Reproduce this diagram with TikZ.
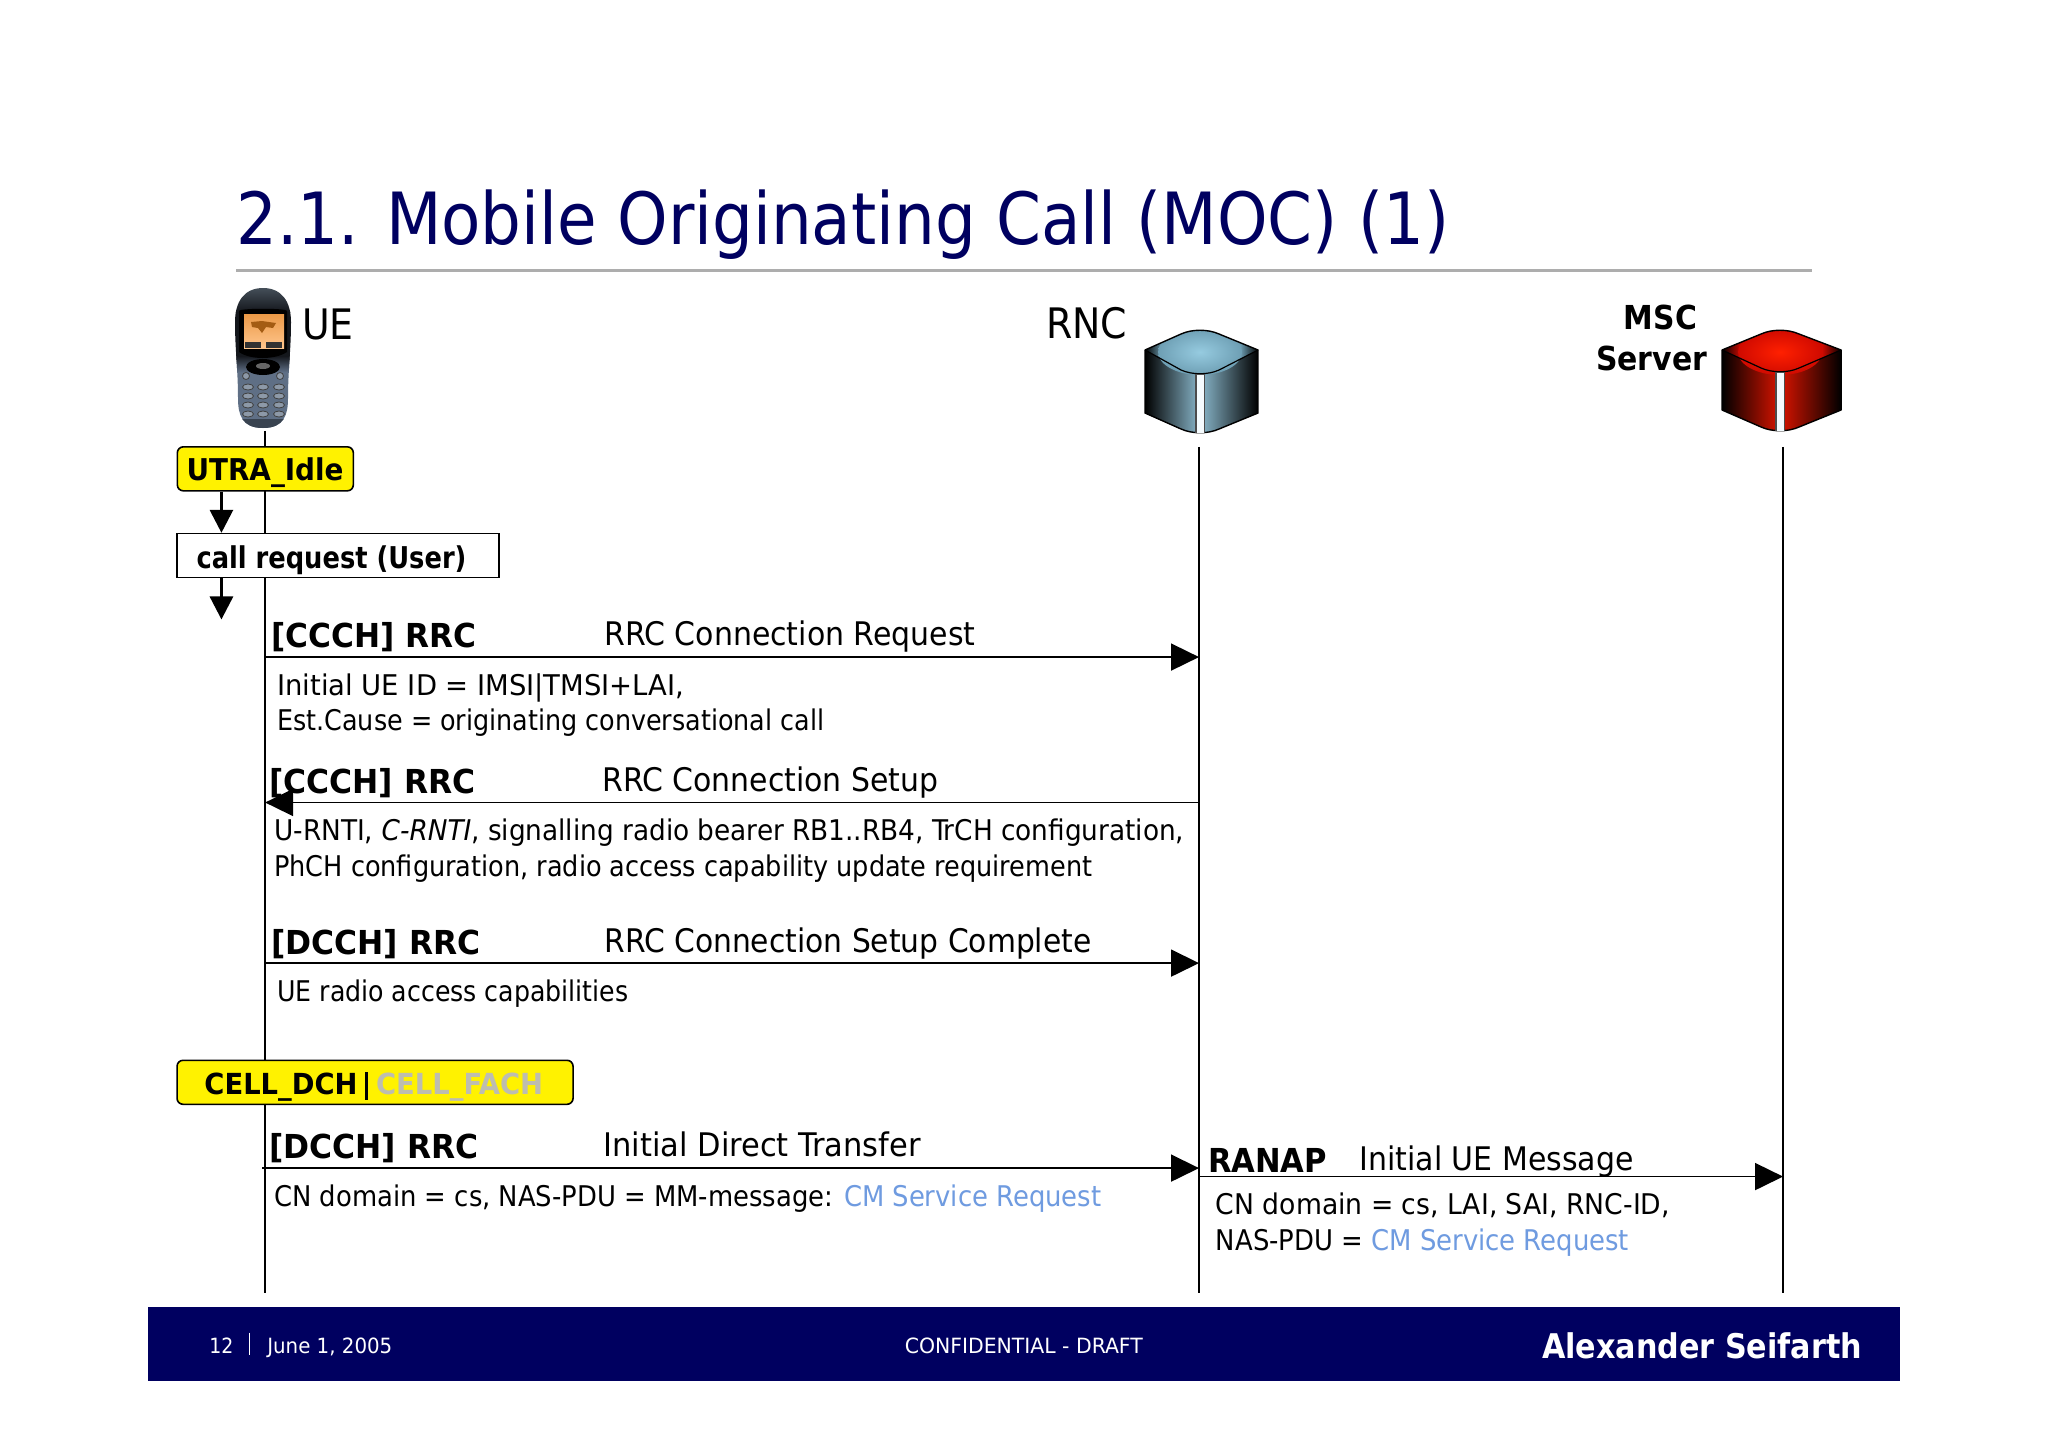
\documentclass[tikz,border=0pt]{standalone}
\usepackage{fontspec}
\usepackage{graphicx}
\setmainfont{DejaVu Sans Condensed}
\usetikzlibrary{arrows.meta}
\definecolor{navy}{HTML}{000060}
\definecolor{cmblue}{HTML}{6F9BE0}
\definecolor{cellgray}{HTML}{BDBDB0}
\definecolor{rncmid}{HTML}{8AB8CC}
\definecolor{rnclight}{HTML}{96CBE0}
\definecolor{rnctopmid}{HTML}{6E9FB4}
\definecolor{mscmid}{HTML}{D81400}
\definecolor{msclight}{HTML}{FF2000}
\definecolor{msctopmid}{HTML}{D00A00}
\definecolor{phonetop}{HTML}{4A5560}
\definecolor{phonedark}{HTML}{14171C}
\definecolor{phonebody}{HTML}{5F6F85}
\definecolor{phonekey}{HTML}{8D99A8}
\pgfdeclarehorizontalshading{topblue}{100bp}{color(0bp)=(black);color(25bp)=(black);color(33bp)=(rnctopmid);color(67bp)=(rnctopmid);color(75bp)=(black);color(100bp)=(black)}
\pgfdeclarehorizontalshading{topred}{100bp}{color(0bp)=(black);color(25bp)=(black);color(33bp)=(msctopmid);color(67bp)=(msctopmid);color(75bp)=(black);color(100bp)=(black)}
\newcommand{\fsz}[1]{\fontsize{#1}{#1}\selectfont}
\newcommand{\fw}[2]{\resizebox{#1pt}{\height}{#2}}
\tikzset{
  txt/.style={anchor=base west,inner sep=0pt,outer sep=0pt,text=black},
  head/.style={txt,font=\bfseries\fsz{33}},
  msgname/.style={txt,font=\fsz{32.5}},
  param/.style={txt,font=\fsz{28.5}},
  life/.style={draw=black,line width=1.7pt},
  msgline/.style={draw=black,line width=1.7pt,-{Triangle[length=28pt,width=27pt]}},
  statebox/.style={draw=black,line width=1.6pt,fill=yellow,rounded corners=6pt},
  flow/.style={draw=black,line width=3pt,-{Triangle[length=23pt,width=23pt]}},
}
% L, C, R, T, S, F, LS, B come from \def; #1 top shading, #2 side colour, #3 light, #4 top mid
\newcommand{\drawcube}[4]{%
  \begin{scope}
    \clip (\cL,\cS) -- (\cC-19,\cT+5) .. controls (\cC-8,\cT) and (\cC+8,\cT) .. (\cC+19,\cT+5) -- (\cR,\cS) -- (\cR,\cLS) -- (\cC+19,\cB-5) .. controls (\cC+8,\cB) and (\cC-8,\cB) .. (\cC-19,\cB-5) -- (\cL,\cLS) -- cycle;
    \shade[left color=black,right color=#2] (\cL,\cT) rectangle (\cC,\cB);
    \shade[left color=#2,right color=black] (\cC,\cT) rectangle (\cR,\cB);
    \shade[shading=#1] (\cL,\cS) -- (\cC-19,\cT+5) .. controls (\cC-8,\cT) and (\cC+8,\cT) .. (\cC+19,\cT+5) -- (\cR,\cS) -- (\cC+19,\cF-5) .. controls (\cC+8,\cF) and (\cC-8,\cF) .. (\cC-19,\cF-5) -- cycle;
    \shade[inner color=#3,outer color=#4] (\cC,\cS+2) ellipse [x radius=42,y radius=23];
  \end{scope}
  \draw[black,line width=1.4pt,line join=round] (\cL,\cS) -- (\cC-19,\cT+5) .. controls (\cC-8,\cT) and (\cC+8,\cT) .. (\cC+19,\cT+5) -- (\cR,\cS) -- (\cR,\cLS) -- (\cC+19,\cB-5) .. controls (\cC+8,\cB) and (\cC-8,\cB) .. (\cC-19,\cB-5) -- (\cL,\cLS) -- cycle;
  \draw[black,line width=1.2pt] (\cL,\cS) -- (\cC-19,\cF-5) .. controls (\cC-8,\cF) and (\cC+8,\cF) .. (\cC+19,\cF-5) -- (\cR,\cS);
  \fill[black!70] (\cC-5,\cF-1) rectangle (\cC+5,\cB-1);
  \fill[black!6!cyan!4!white] (\cC-3.5,\cF) rectangle (\cC+3.5,\cB-1);
}
\begin{document}
\begin{tikzpicture}[x=.9975pt,y=-.9975pt]
\useasboundingbox (0,0) rectangle (2053.1,1450.6);
\fill[white] (0,0) rectangle (2053.1,1450.6);
% title
\node[txt,text=navy,font=\fsz{72}] (title) at (237,245) {\fw{1213}{2.1. Mobile Originating Call (MOC) (1)}};
\draw[line width=3pt,draw=black!32] (237,271) -- (1816,271);
% lifelines
\coordinate (uetop) at (265.8,432); \coordinate (uebot) at (265.8,1296);
\coordinate (rnctop) at (1202,448); \coordinate (rncbot) at (1202,1296);
\coordinate (msctop) at (1787.5,448); \coordinate (mscbot) at (1787.5,1296);
\draw[life] (uetop) -- (uebot);
\draw[life] (rnctop) -- (rncbot);
\draw[life] (msctop) -- (mscbot);
% phone and server icons, in true pixels
\begin{scope}[x=1pt,y=-1pt]
  \begin{scope}
    \clip (263,288) .. controls (282,288) and (291,302) .. (291,322) .. controls (291,350) and (288,370) .. (288,398) .. controls (288,415) and (284,428) .. (263,428) .. controls (242,428) and (238,415) .. (238,398) .. controls (238,370) and (235,350) .. (235,322) .. controls (235,302) and (244,288) .. (263,288);
    \shade[top color=phonetop,bottom color=phonedark] (230,285) rectangle (296,312);
    \fill[phonedark] (230,312) rectangle (296,362);
    \fill[phonebody] (230,362) rectangle (296,432);
    \shade[top color=phonedark,bottom color=phonebody] (230,356) rectangle (296,372);
    \fill[phonebody!60!black] (238,419) rectangle (290,432);
  \end{scope}
  \fill[black] (239,311) .. controls (239,308) and (287,308) .. (287,311) -- (287,352) .. controls (275,360) and (250,360) .. (239,352) -- cycle;
  \shade[top color=orange!60!brown!80!white,bottom color=orange!45!white] (244,314) rectangle (284,348);
  \fill[black!40!orange!70!brown] (251,322) -- (262,321) -- (276,323) -- (273,328) -- (266,327) -- (262,333) -- (258,328) -- (252,327) -- cycle;
  \fill[black!80] (245,342) rectangle (261,348);
  \fill[black!80] (266,342) rectangle (282,348);
  \fill[black] (263,367) ellipse [x radius=17,y radius=8];
  \fill[black!60] (263,366) ellipse [x radius=7,y radius=3];
  \foreach \kx in {248,263,279}{\foreach \ky in {387,396,405,414}{
    \fill[draw=black!75,fill=phonekey,line width=.8pt] (\kx,\ky) ellipse [x radius=5.5,y radius=3];}}
  \fill[draw=black!75,fill=phonekey,line width=.8pt] (246,376) circle (3.5);
  \fill[draw=black!75,fill=phonekey,line width=.8pt] (280,376) circle (3.5);
  % RNC
  \def\cL{1145}\def\cC{1200}\def\cR{1258}\def\cT{329}\def\cS{350}\def\cF{375}\def\cLS{413}\def\cB{434}
  \drawcube{topblue}{rncmid}{rnclight}{rnctopmid}
  % MSC
  \def\cL{1722}\def\cC{1780}\def\cR{1841}\def\cT{329}\def\cS{350}\def\cF{373}\def\cLS{410}\def\cB{432}
  \drawcube{topred}{mscmid}{msclight}{msctopmid}
\end{scope}
% participant labels
\node[txt,font=\fsz{42}] (ue) at (303,340) {UE};
\node[txt,font=\fsz{42}] (rnc) at (1049,339) {\fw{81}{RNC}};
\node[txt,font=\bfseries\fsz{33}] (msc) at (1628,330) {\fw{73}{MSC}};
\node[txt,font=\bfseries\fsz{33}] (server) at (1600,371) {\fw{111}{Server}};
% state boxes
\node[statebox,minimum width=176pt,minimum height=44pt,inner sep=0pt] (idle) at (266,470) {};
\node[txt,font=\bfseries\fsz{30}] (idletxt) at (187,482) {\fw{157}{UTRA\_Idle}};
\node[draw=black,line width=1.6pt,fill=white,minimum width=322pt,minimum height=44pt,inner sep=0pt] (callreq) at (339,557) {};
\node[txt,font=\bfseries\fsz{30}] (calltxt) at (197,570) {\fw{270}{call request (User)}};
\draw[flow] (idle.south -| 222,0) -- (callreq.north -| 222,0);
\coordinate (a2e) at (222,621);
\draw[flow] (callreq.south -| a2e) -- (a2e);
\node[statebox,minimum width=396pt,minimum height=44pt,inner sep=0pt] (cell) at (376,1085) {};
\node[txt,font=\bfseries\fsz{29}] (cell1) at (205,1097) {\fw{153}{CELL\_DCH}};
\draw[black,line width=3pt] (367,1075) -- (367,1103);
\node[txt,font=\bfseries\fsz{29},text=cellgray] (cell2) at (377,1097) {\fw{167}{CELL\_FACH}};
% messages
\coordinate (m1a) at (265.8,658.7); \coordinate (m1b) at (1202,658.7);
\coordinate (m2a) at (1202,804.5); \coordinate (m2b) at (265.8,804.5);
\coordinate (m3a) at (265.8,965.5); \coordinate (m3b) at (1202,965.5);
\coordinate (m4a) at (263,1171); \coordinate (m4b) at (1202,1171);
\coordinate (m5a) at (1202,1179.5); \coordinate (m5b) at (1787.5,1179.5);
\node[head] (h1) at (272,649) {\fw{205}{[CCCH] RRC}};
\node[msgname] (n1) at (606,647) {\fw{371}{RRC Connection Request}};
\node[param] (p1a) at (278,697) {\fw{407}{Initial UE ID = IMSI|TMSI+LAI,}};
\node[param] (p1b) at (278,732) {\fw{547}{Est.Cause = originating conversational call}};
\node[head] (h2) at (270,795.5) {\fw{206}{[CCCH] RRC}};
\node[msgname] (n2) at (604,793) {\fw{336}{RRC Connection Setup}};
\node[param] (p2a) at (275,843) {\fw{910}{U-RNTI, \textit{C-RNTI}, signalling radio bearer RB1..RB4, TrCH configuration,}};
\node[param] (p2b) at (275,879) {\fw{818}{PhCH configuration, radio access capability update requirement}};
\node[head] (h3) at (272,957) {\fw{209}{[DCCH] RRC}};
\node[msgname] (n3) at (606,955) {\fw{487}{RRC Connection Setup Complete}};
\node[param] (p3) at (278,1004) {\fw{351}{UE radio access capabilities}};
\node[head] (h4) at (270,1161) {\fw{209}{[DCCH] RRC}};
\node[msgname] (n4) at (605,1159) {\fw{317}{Initial Direct Transfer}};
\node[param] (p4) at (275,1209) {\fw{827}{CN domain = cs, NAS-PDU = MM-message: \textcolor{cmblue}{CM Service Request}}};
\node[head] (h5) at (1211,1175) {\fw{119}{RANAP}};
\node[msgname] (n5) at (1363,1173) {\fw{274}{Initial UE Message}};
\node[param] (p5a) at (1219,1218) {\fw{454}{CN domain = cs, LAI, SAI, RNC-ID,}};
\node[param] (p5b) at (1219,1254) {\fw{413}{NAS-PDU = \textcolor{cmblue}{CM Service Request}}};
\draw[msgline] (m1a) -- (m1b);
\draw[msgline] (m2a) -- (m2b);
\draw[msgline] (m3a) -- (m3b);
\draw[msgline] (m4a) -- (m4b);
\draw[msgline] (m5a) -- (m5b);
% footer
\fill[navy] (148,1310) rectangle (1905,1384);
\node[txt,text=white,font=\fsz{21}] (pg) at (210,1357) {12};
\draw[white,line width=1.5pt] (250,1336) -- (250,1358);
\node[txt,text=white,font=\fsz{21}] (date) at (268,1357) {\fw{125}{June 1, 2005}};
\node[txt,text=white,font=\fsz{21}] (conf) at (907,1357) {\fw{238}{CONFIDENTIAL - DRAFT}};
\node[txt,text=white,font=\bfseries\fsz{34}] (author) at (1546,1362) {\fw{320}{Alexander Seifarth}};
\end{tikzpicture}
\end{document}
